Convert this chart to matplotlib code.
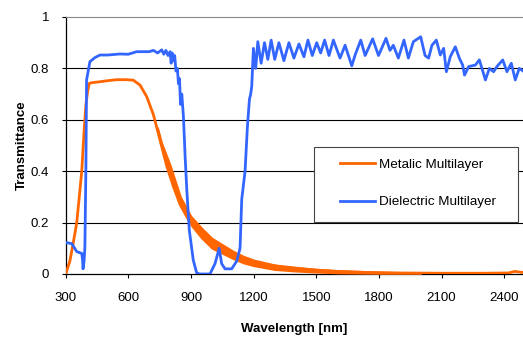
import matplotlib
matplotlib.use('Agg')
import matplotlib.pyplot as plt
from matplotlib.patches import Rectangle

# wavelength (nm) / transmittance
metal_wl = [300, 320, 336, 353, 365, 377, 384, 390, 397, 405, 413, 432, 464, 500, 544, 590,
            624, 656, 688, 720, 752, 784, 816, 848, 896, 959, 1023, 1103, 1183, 1260, 1343,
            1423, 1503, 1600, 1742, 1900, 2100, 2300, 2420, 2450, 2490]
metal_t = [0.0, 0.05, 0.12, 0.20, 0.30, 0.40, 0.50, 0.58, 0.66, 0.71, 0.742, 0.745, 0.748, 0.752,
           0.756, 0.756, 0.754, 0.735, 0.69, 0.62, 0.52, 0.42, 0.34, 0.27, 0.20, 0.155, 0.116,
           0.075, 0.05, 0.037, 0.026, 0.02, 0.015, 0.01, 0.006, 0.004, 0.003, 0.003, 0.004, 0.01, 0.006]

# envelope of the fast ripple on the metallic curve
band_wl = [740, 760, 800, 850, 900, 950, 1000, 1050, 1100, 1150, 1200, 1300, 1400, 1500, 1600,
           1700, 1800, 1900, 2000]
band_hi = [0.57, 0.51, 0.425, 0.30, 0.225, 0.18, 0.14, 0.115, 0.09, 0.07, 0.055, 0.036, 0.027,
           0.019, 0.014, 0.011, 0.008, 0.006, 0.005]
band_lo = [0.56, 0.49, 0.385, 0.265, 0.19, 0.14, 0.1, 0.08, 0.06, 0.043, 0.032, 0.017, 0.011,
           0.007, 0.004, 0.003, 0.002, 0.002, 0.002]

diel_wl = [300, 305, 329, 353, 377, 381, 383, 388, 392, 397, 400, 416, 440, 464, 500, 560, 600,
           640, 700, 720, 740, 760, 770, 780, 790, 800, 805, 810, 815, 822, 828, 835, 840, 845,
           850, 856, 864, 872, 880, 892, 911, 927, 940, 991, 1015, 1035, 1047, 1063, 1095, 1119,
           1135, 1143, 1159, 1170, 1180, 1186, 1191, 1199, 1210, 1220, 1236, 1252, 1268, 1284,
           1301, 1321, 1345, 1369, 1393, 1417, 1441, 1460, 1481, 1502, 1521, 1540, 1561, 1582,
           1600, 1614, 1638, 1670, 1686, 1713, 1734, 1770, 1798, 1834, 1853, 1869, 1893, 1920,
           1941, 1965, 1989, 2000, 2021, 2038, 2054, 2075, 2094, 2110, 2123, 2142, 2166, 2185,
           2201, 2210, 2230, 2262, 2281, 2310, 2329, 2349, 2365, 2393, 2413, 2434, 2453, 2472,
           2490]
diel_t = [0.12, 0.122, 0.118, 0.087, 0.08, 0.054, 0.02, 0.05, 0.106, 0.43, 0.755, 0.826, 0.842,
          0.852, 0.852, 0.856, 0.855, 0.865, 0.865, 0.87, 0.86, 0.872, 0.855, 0.87, 0.85, 0.865,
          0.82, 0.86, 0.83, 0.85, 0.79, 0.80, 0.74, 0.76, 0.66, 0.70, 0.61, 0.456, 0.327, 0.17,
          0.054, 0.005, 0.0, 0.0, 0.04, 0.10, 0.04, 0.02, 0.02, 0.05, 0.10, 0.29, 0.40, 0.57,
          0.68, 0.70, 0.73, 0.878, 0.80, 0.904, 0.82, 0.90, 0.835, 0.91, 0.835, 0.90, 0.83, 0.90,
          0.84, 0.895, 0.845, 0.91, 0.85, 0.90, 0.86, 0.91, 0.85, 0.91, 0.87, 0.84, 0.89, 0.81,
          0.852, 0.91, 0.85, 0.915, 0.85, 0.917, 0.87, 0.89, 0.84, 0.91, 0.84, 0.904, 0.917,
          0.923, 0.85, 0.84, 0.89, 0.91, 0.852, 0.878, 0.787, 0.846, 0.884, 0.84, 0.813, 0.774,
          0.807, 0.813, 0.833, 0.755, 0.80, 0.787, 0.807, 0.833, 0.787, 0.82, 0.755, 0.80, 0.79]

x_ticks = [300, 600, 900, 1200, 1500, 1800, 2100, 2400]
y_ticks = [0, 0.2, 0.4, 0.6, 0.8, 1]
y_labels = ['0', '0.2', '0.4', '0.6', '0.8', '1']

plt.rcParams['font.family'] = ['Liberation Sans', 'DejaVu Sans']

orange = '#FF6600'
blue = '#3366FF'

fig = plt.figure(figsize=(5.23, 3.41), dpi=100)
ax = fig.add_axes([0.1256, 0.1965, 0.8744, 0.7537])

ax.fill_between(band_wl, band_lo, band_hi, color=orange, lw=1.2, zorder=3)
ax.plot(metal_wl, metal_t, color=orange, lw=2.0, label='Metalic Multilayer', zorder=3)
ax.plot(diel_wl, diel_t, color=blue, lw=2.0, label='Dielectric Multilayer', zorder=4)

ax.set_xlim(300, 2490)
ax.set_ylim(0, 1)
ax.set_xticks(x_ticks)
ax.set_yticks(y_ticks)
ax.set_yticklabels(y_labels)
ax.tick_params(labelsize=9.5, direction='out', length=3, width=0.8, colors='black')
ax.tick_params(axis='y', pad=9)
ax.tick_params(axis='x', pad=10)

for y in [0.2, 0.4, 0.6, 0.8]:
    ax.axhline(y, color='black', lw=0.8, zorder=1)

ax.spines['right'].set_visible(False)
ax.spines['top'].set_color('#888888')
ax.spines['left'].set_linewidth(0.9)
ax.spines['bottom'].set_linewidth(0.9)

ax.set_xlabel('Wavelength [nm]', fontsize=9.5, fontweight='bold', labelpad=14)
ax.set_ylabel('Transmittance', fontsize=9.5, fontweight='bold', labelpad=2)

# legend box drawn separately so the horizontal padding matches
ax.add_patch(Rectangle((0.543, 0.202), 0.447, 0.292, transform=ax.transAxes,
                       facecolor='white', edgecolor='#444444', lw=0.8, zorder=5))
leg = ax.legend(loc='upper left', bbox_to_anchor=(0.600, 0.449), fontsize=9.7,
                frameon=False, handlelength=2.6, handletextpad=0.3, labelspacing=1.85,
                borderpad=0, borderaxespad=0)
leg.set_zorder(6)

fig.savefig('out.png', dpi=100)
